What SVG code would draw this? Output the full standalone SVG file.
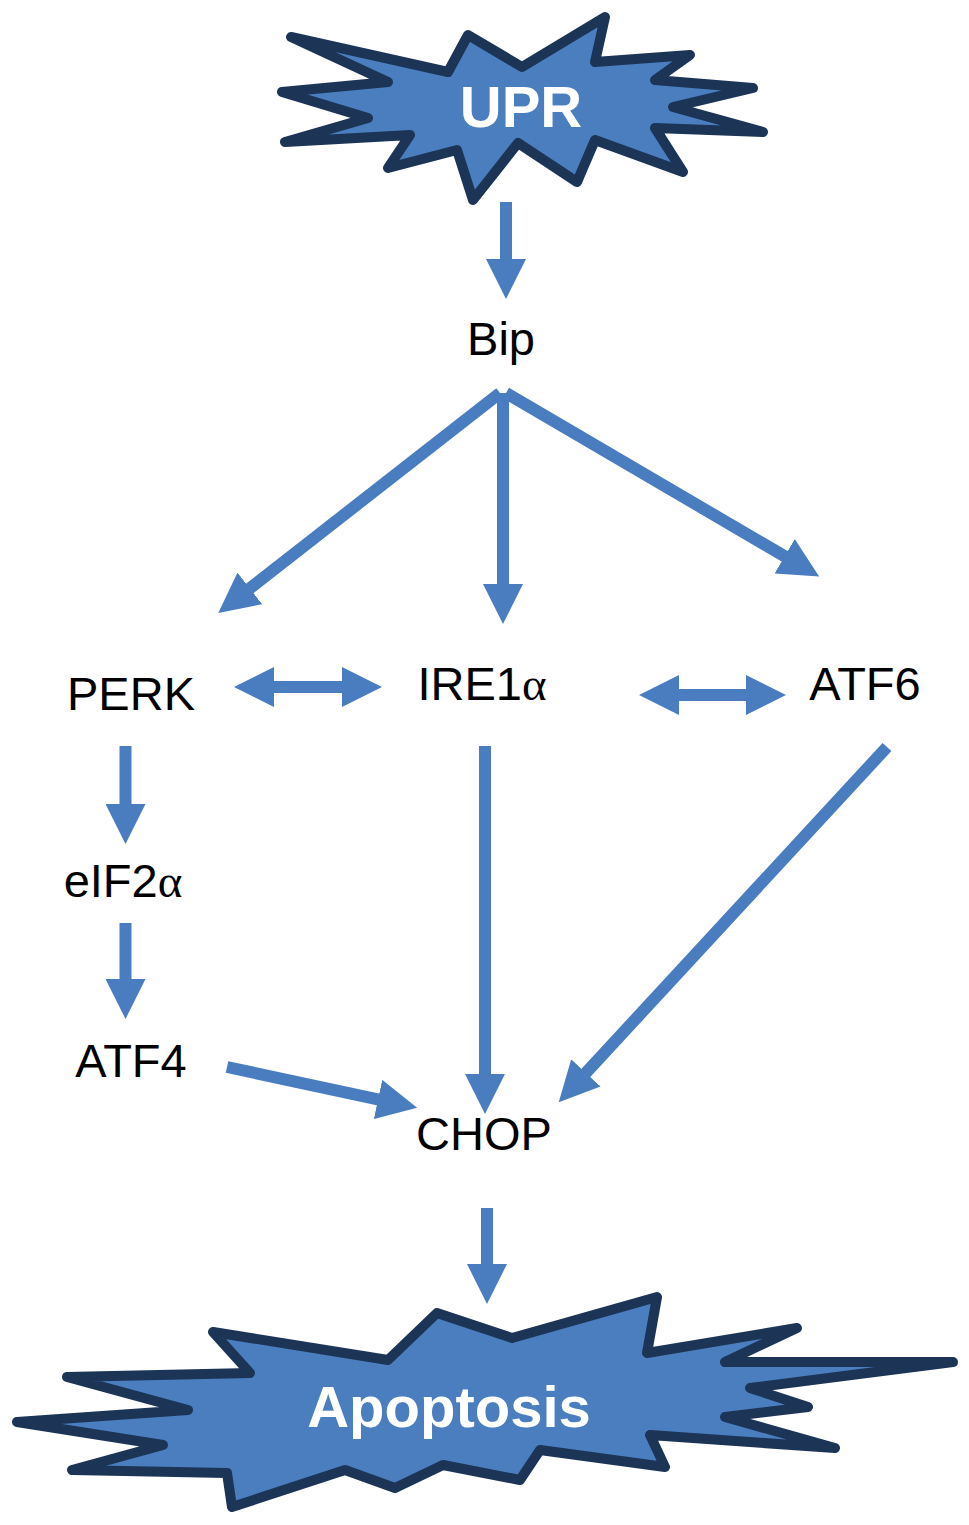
<svg xmlns="http://www.w3.org/2000/svg" width="969" height="1525" viewBox="0 0 969 1525">
<style>
.star{fill:#4a7ebf;stroke:#1c3557;stroke-width:10;stroke-linejoin:round}
.lbl{font-family:"Liberation Sans",Arial,sans-serif;font-size:47px;fill:#000;text-anchor:middle}
.gr{font-family:"Liberation Serif","Times New Roman",serif}
.big{font-family:"Liberation Sans",Arial,sans-serif;font-weight:bold;font-size:58px;fill:#fff;text-anchor:middle}
.arr{stroke:#4a7dbf;stroke-width:12;fill:none;marker-end:url(#head)}
.dbl{marker-start:url(#head)}
</style>
<defs>
<marker id="head" viewBox="0 0 40 40" markerWidth="40" markerHeight="40" markerUnits="userSpaceOnUse" refX="1" refY="20" orient="auto-start-reverse">
<path d="M0,0 L40,20 L0,40 z" fill="#4a7dbf"/>
</marker>
</defs>
<rect width="969" height="1525" fill="#fff"/>
<g id="upr">
<polygon class="star" points="291,37 448,72 468,35 522,67 605,17 595,62 690,55 655,80 753,88 673,107 763,132 655,128 683,172 595,140 577,182 518,143 473,200 457,150 388,168 410,135 285,142 368,118 282,92 388,82"/>
<text class="big" x="521" y="127">UPR</text>
</g>
<g id="bip"><text class="lbl" x="501" y="355">Bip</text></g>
<g id="perk"><text class="lbl" x="131" y="710">PERK</text></g>
<g id="ire1a"><text class="lbl" x="482" y="700">IRE1<tspan class="gr">α</tspan></text></g>
<g id="atf6"><text class="lbl" x="865" y="700">ATF6</text></g>
<g id="eif2a"><text class="lbl" x="123" y="897">eIF2<tspan class="gr">α</tspan></text></g>
<g id="atf4"><text class="lbl" x="131" y="1077">ATF4</text></g>
<g id="chop"><text class="lbl" x="484" y="1150">CHOP</text></g>
<g id="apoptosis">
<polygon class="star" points="213,1332 388,1360 437,1313 512,1338 657,1297 647,1353 797,1328 725,1362 953,1362 750,1388 808,1407 725,1417 835,1448 650,1435 665,1467 540,1450 520,1480 443,1465 395,1488 345,1470 232,1507 227,1473 72,1470 163,1445 17,1422 188,1410 67,1377 250,1373"/>
<text class="big" x="449" y="1427">Apoptosis</text>
</g>
<g id="connectors">
<line class="arr" x1="506" y1="202" x2="506" y2="260"/>
<line class="arr" x1="500" y1="393" x2="249" y2="589"/>
<line class="arr" x1="503" y1="393" x2="503" y2="585"/>
<line class="arr" x1="506" y1="393" x2="785.5" y2="556.8"/>
<line class="arr dbl" x1="273" y1="687" x2="343" y2="687"/>
<line class="arr dbl" x1="678" y1="695" x2="747" y2="695"/>
<line class="arr" x1="125.5" y1="746" x2="125.5" y2="805"/>
<line class="arr" x1="125.5" y1="923" x2="125.5" y2="980"/>
<line class="arr" x1="227" y1="1067" x2="379" y2="1099.6"/>
<line class="arr" x1="485" y1="746" x2="485" y2="1075"/>
<line class="arr" x1="887" y1="747" x2="585.2" y2="1073.6"/>
<line class="arr" x1="487" y1="1208" x2="487" y2="1265"/>
</g>
</svg>
